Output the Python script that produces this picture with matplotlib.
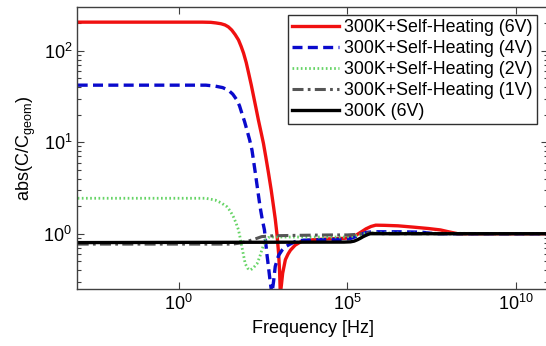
import numpy as np
import matplotlib
matplotlib.use("Agg")
import matplotlib.pyplot as plt
from matplotlib.ticker import FixedLocator, FixedFormatter, LogLocator, NullFormatter

plt.rcParams['font.family'] = ['Liberation Sans', 'DejaVu Sans']
plt.rcParams['mathtext.fontset'] = 'custom'
plt.rcParams['mathtext.rm'] = 'Liberation Sans'
plt.rcParams['mathtext.it'] = 'Liberation Sans'

# log10 of frequency [Hz] and abs(C/Cgeom) values
red_logf = [-3, 0.7, 0.95, 1.1, 1.25, 1.37, 1.47, 1.57, 1.67, 1.77, 1.85, 1.92, 2.0, 2.07,
            2.15, 2.22, 2.29, 2.36, 2.44, 2.51, 2.58, 2.66, 2.74, 2.81, 2.86, 2.91, 2.96,
            2.99, 3.01, 3.04, 3.08, 3.16, 3.24, 3.31, 3.45, 3.65, 4.0, 4.5, 4.9, 5.1, 5.25,
            5.4, 5.55, 5.7, 5.84, 6.1, 6.5, 6.96, 7.4, 7.76, 8.0, 8.27, 10.95]
red_c = [205, 205, 204, 201, 197, 191, 182, 168, 150, 131, 111, 94, 74, 57,
         42, 31.4, 23.5, 17.5, 12.8, 9.7, 6.9, 4.6, 3.0, 1.97, 1.45, 1.0, 0.61,
         0.38, 0.22, 0.27, 0.37, 0.52, 0.6, 0.66, 0.75, 0.83, 0.86, 0.88, 0.89, 0.91, 0.96,
         1.04, 1.13, 1.2, 1.24, 1.235, 1.22, 1.18, 1.14, 1.1, 1.05, 1.0, 1.0]

blue_logf = [-3, 0.8, 1.08, 1.3, 1.47, 1.6, 1.72, 1.8, 1.87, 1.95, 2.02, 2.1, 2.17, 2.27,
             2.34, 2.41, 2.48, 2.54, 2.61, 2.66, 2.71, 2.76, 2.81, 2.86, 2.96, 3.06, 3.16,
             3.3, 3.45, 3.7, 4.2, 4.9, 5.1, 5.25, 5.4, 5.55, 5.75, 6.5, 7.2, 7.6, 10.95]
blue_c = [42, 42, 41, 39.5, 37, 33.5, 29, 25, 20.7, 16.8, 13.6, 10.6, 8.2, 4.6,
          3.0, 1.97, 1.4, 1.1, 0.61, 0.43, 0.3, 0.22, 0.3, 0.44, 0.58, 0.66, 0.72,
          0.77, 0.82, 0.85, 0.86, 0.87, 0.89, 0.93, 0.98, 1.03, 1.05, 1.05, 1.04, 1.0, 1.0]

green_logf = [-3, 0.8, 1.08, 1.25, 1.43, 1.53, 1.62, 1.7, 1.77, 1.82, 1.87, 1.92, 1.97,
              2.04, 2.12, 2.2, 2.32, 2.4, 2.46, 2.56, 2.66, 2.76, 3.5, 4.9, 5.1, 5.25,
              5.4, 5.55, 5.75, 10.95]
green_c = [2.44, 2.44, 2.33, 2.18, 1.97, 1.76, 1.53, 1.3, 1.1, 0.9, 0.72, 0.58, 0.47,
           0.42, 0.40, 0.42, 0.47, 0.56, 0.66, 0.85, 0.91, 0.92, 0.92, 0.92, 0.93, 0.95,
           0.98, 1.01, 1.02, 1.0]

gray_logf = [-3, 1.6, 1.8, 2.0, 2.2, 2.46, 2.8, 3.5, 4.5, 5.0, 5.2, 5.4, 5.6, 6.0, 10.95]
gray_c = [0.77, 0.77, 0.79, 0.82, 0.86, 0.93, 0.95, 0.96, 0.97, 0.97, 0.98, 0.995, 1.02, 1.0, 1.0]

black_logf = [-3, 4.9, 5.09, 5.2, 5.3, 5.38, 5.47, 5.55, 5.62, 5.68, 5.8, 10.95]
black_c = [0.80, 0.81, 0.815, 0.83, 0.86, 0.89, 0.93, 0.96, 0.985, 1.0, 1.0, 1.0]

labels = ['300K+Self-Heating (6V)', '300K+Self-Heating (4V)', '300K+Self-Heating (2V)',
          '300K+Self-Heating (1V)', '300K (6V)']
xtick_exp = [0, 5, 10]
ytick_exp = [0, 1, 2]

fig = plt.figure(figsize=(5.46, 3.46), dpi=100)
ax = fig.add_axes([77/546, 1 - 289/346, (548-77)/546, (289-7.3)/346])

ax.plot(10**np.array(red_logf), red_c, color='#f01010', lw=2.4, ls='-', label=labels[0])
ax.plot(10**np.array(blue_logf), blue_c, color='#0a0acc', lw=2.4, ls=(0, (3, 1.6)), label=labels[1])
ax.plot(10**np.array(green_logf), green_c, color='#66d466', lw=2.0, ls=(0, (0.6, 0.9)), label=labels[2])
ax.plot(10**np.array(gray_logf), gray_c, color='#555555', lw=2.2, ls=(0, (3.6, 1.4, 0.9, 1.4)), label=labels[3])
ax.plot(10**np.array(black_logf), black_c, color='black', lw=2.4, ls='-', label=labels[4])

ax.set_xscale('log')
ax.set_yscale('log')
ax.set_xlim(10**-3.02, 10**10.95)
ax.set_ylim(10**-0.604, 10**2.474)

ax.xaxis.set_major_locator(FixedLocator([10.0**e for e in xtick_exp]))
ax.xaxis.set_major_formatter(FixedFormatter([r'$\mathregular{10^{%d}}$' % e for e in xtick_exp]))
ax.xaxis.set_minor_locator(FixedLocator([]))
ax.yaxis.set_major_locator(FixedLocator([10.0**e for e in ytick_exp]))
ax.yaxis.set_major_formatter(FixedFormatter([r'$\mathregular{10^{%d}}$' % e for e in ytick_exp]))
ax.yaxis.set_minor_locator(LogLocator(base=10, subs=np.arange(2, 10)))
ax.yaxis.set_minor_formatter(NullFormatter())

ax.tick_params(which='both', direction='in', top=True, right=True, color='#404040', labelsize=13)
ax.tick_params(which='major', length=5, width=0.8)
ax.tick_params(which='minor', length=3, width=0.8)
for s in ax.spines.values():
    s.set_color('#404040')
    s.set_linewidth(1.0)

ax.set_xlabel('Frequency [Hz]', fontsize=13, labelpad=4)
ax.set_ylabel(r'abs(C/C$_{\mathregular{geom}}$)', fontsize=13, labelpad=4)

leg = ax.legend(loc='upper right', bbox_to_anchor=((537-77)/(548-77), (289-14.7)/(289-7.3)),
                fontsize=12.8, frameon=True, fancybox=False, framealpha=1, edgecolor='#303030',
                handlelength=2.6, handletextpad=0.3, labelspacing=0.22, borderpad=0.25,
                borderaxespad=0)
leg.get_frame().set_linewidth(1.0)

fig.savefig('out.png', dpi=100)
